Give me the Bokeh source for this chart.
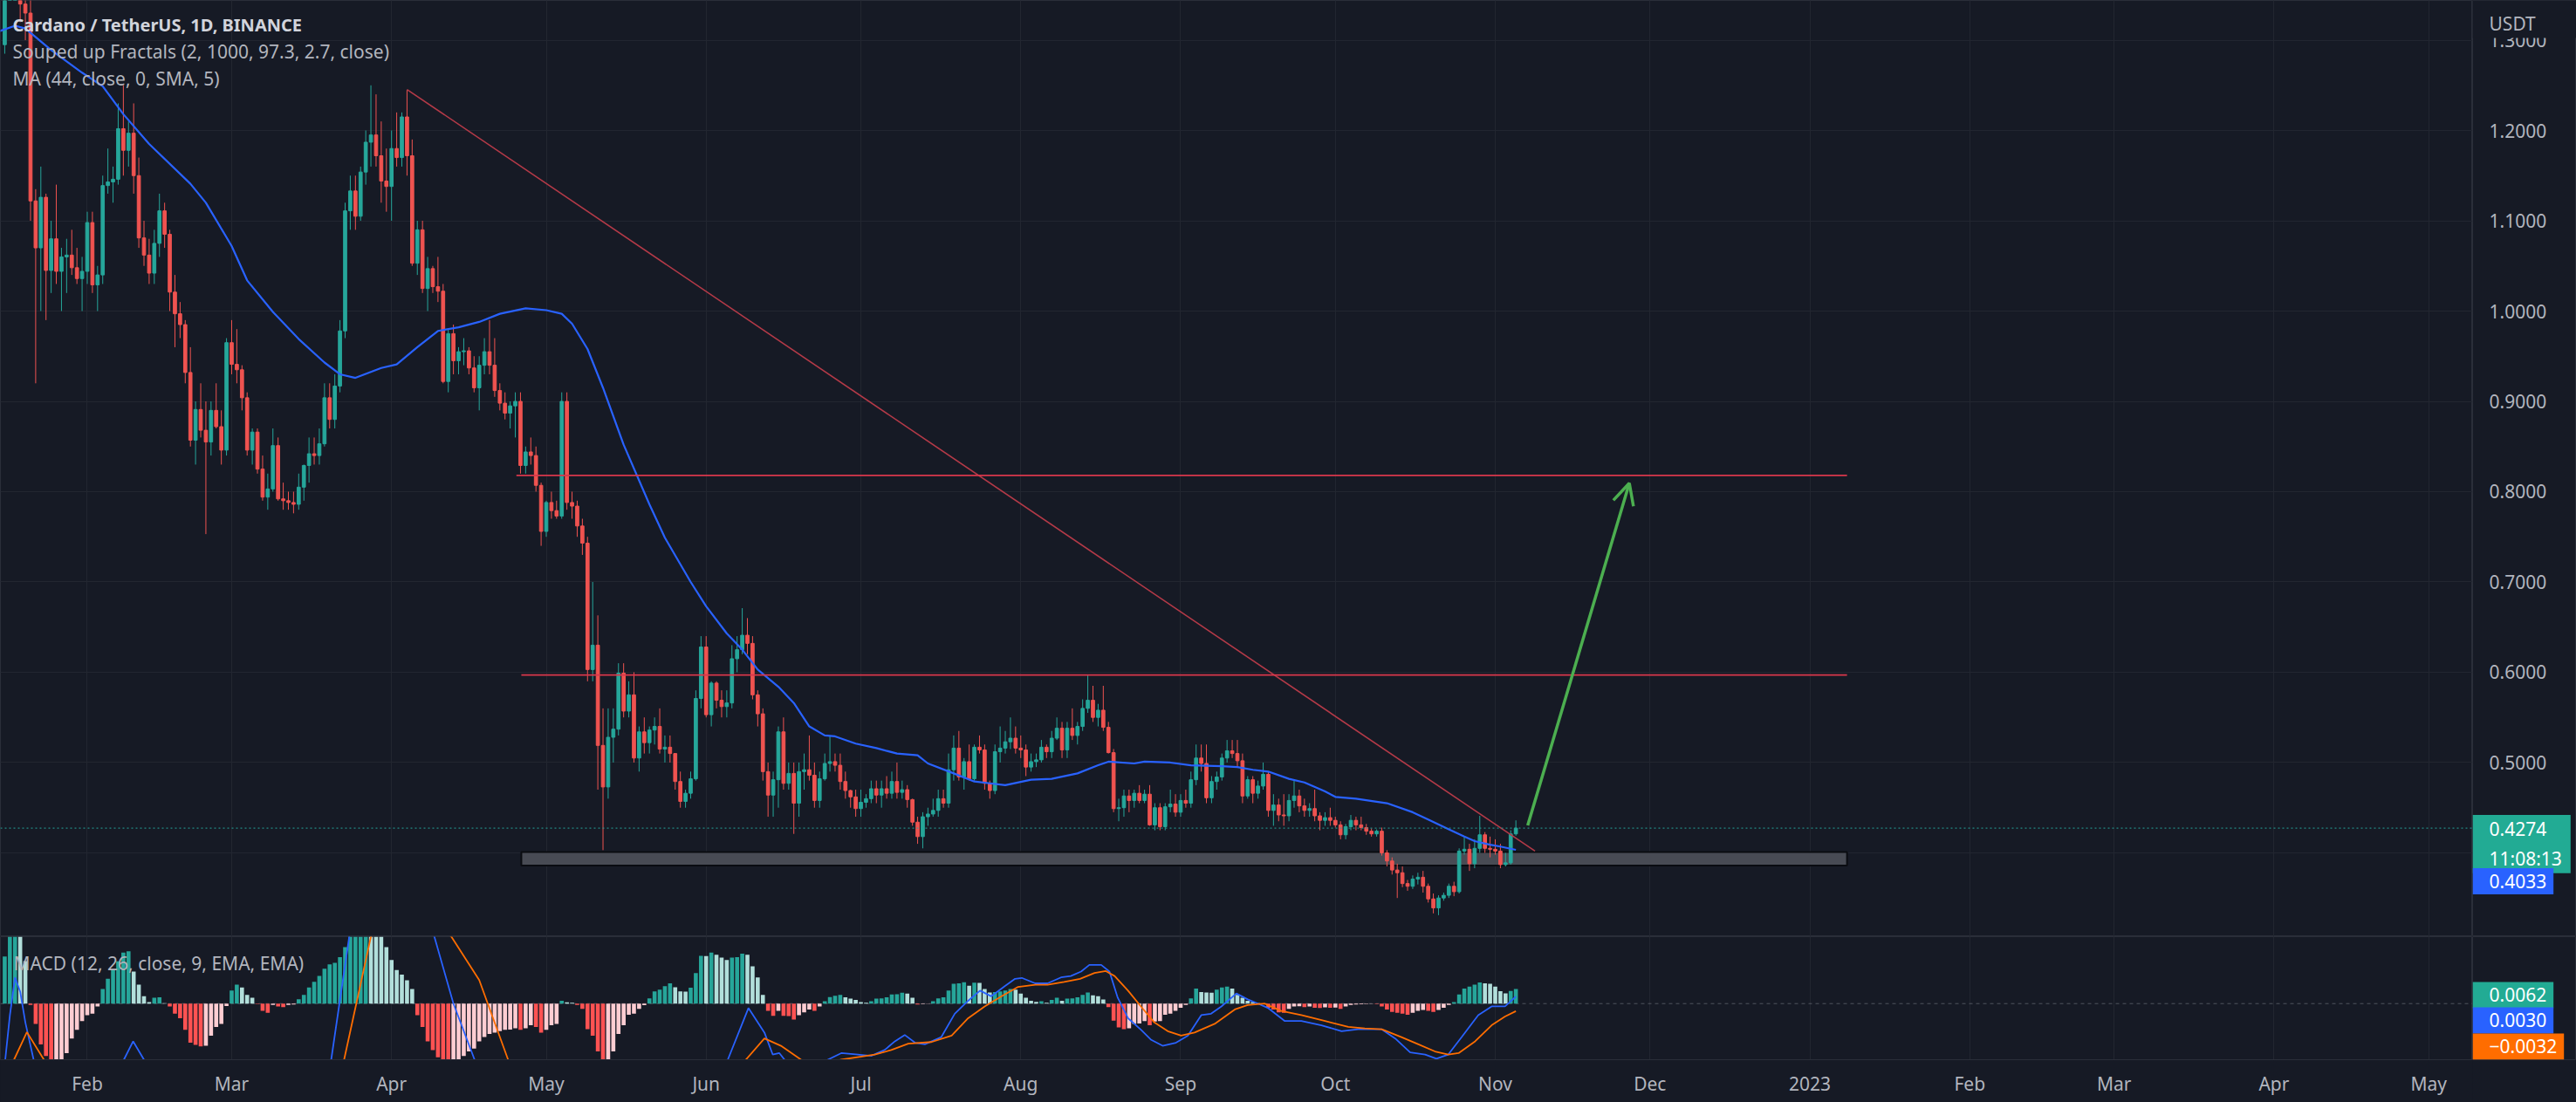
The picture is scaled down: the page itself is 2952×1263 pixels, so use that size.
import pandas as pd
from bokeh.plotting import figure
from bokeh.layouts import column, row
from bokeh.models import (Range1d, FixedTicker, Grid, Span, Label, Arrow, OpenHead, ColumnDataSource)
from bokeh.core.properties import value
from bokeh.embed import file_html
from bokeh.resources import INLINE

# ---------------- DATA ----------------
first_date = "2022-01-16"
first_open = 1.295
closes = [
    # Jan 16-31
    1.38, 1.46, 1.47, 1.34, 1.33, 1.122, 1.070, 1.126, 1.045, 1.080, 1.044, 1.060, 1.062, 1.048, 1.036, 1.044,
    # Feb
    1.098, 1.029, 1.040, 1.139, 1.143, 1.146, 1.202, 1.178, 1.197, 1.150, 1.081, 1.062, 1.042, 1.075, 1.111, 1.085,
    1.021, 0.997, 0.985, 0.932, 0.857, 0.891, 0.868, 0.855, 0.890, 0.872, 0.846, 0.965,
    # Mar
    0.941, 0.935, 0.904, 0.846, 0.866, 0.825, 0.794, 0.803, 0.851, 0.792, 0.790, 0.788, 0.786, 0.805, 0.829, 0.842,
    0.840, 0.853, 0.904, 0.880, 0.917, 0.978, 1.111, 1.133, 1.105, 1.154, 1.187, 1.195, 1.172, 1.144, 1.138,
    # Apr
    1.180, 1.170, 1.215, 1.172, 1.053, 1.090, 1.025, 1.047, 1.027, 1.022, 0.922, 0.975, 0.945, 0.955, 0.956, 0.937,
    0.915, 0.940, 0.955, 0.940, 0.912, 0.898, 0.887, 0.895, 0.900, 0.829, 0.844, 0.840, 0.807, 0.756,
    # May
    0.788, 0.779, 0.773, 0.900, 0.788, 0.784, 0.762, 0.743, 0.603, 0.630, 0.519, 0.473, 0.528, 0.537, 0.599, 0.557,
    0.575, 0.505, 0.534, 0.522, 0.536, 0.540, 0.515, 0.517, 0.510, 0.479, 0.457, 0.466, 0.482, 0.571, 0.628,
    # Jun
    0.553, 0.588, 0.569, 0.562, 0.566, 0.615, 0.625, 0.641, 0.632, 0.575, 0.554, 0.490, 0.464, 0.481, 0.534, 0.477,
    0.488, 0.455, 0.490, 0.492, 0.486, 0.458, 0.482, 0.499, 0.501, 0.497, 0.479, 0.469, 0.462, 0.449,
    # Jul
    0.456, 0.460, 0.471, 0.464, 0.471, 0.466, 0.479, 0.467, 0.470, 0.459, 0.434, 0.418, 0.440, 0.443, 0.447, 0.460,
    0.455, 0.492, 0.516, 0.484, 0.501, 0.482, 0.517, 0.514, 0.477, 0.469, 0.512, 0.516, 0.523, 0.527, 0.516,
    # Aug
    0.514, 0.495, 0.501, 0.503, 0.517, 0.512, 0.527, 0.538, 0.514, 0.538, 0.530, 0.540, 0.560, 0.569, 0.550, 0.558,
    0.539, 0.511, 0.449, 0.450, 0.463, 0.458, 0.466, 0.458, 0.465, 0.431, 0.450, 0.429, 0.451, 0.454, 0.445,
    # Sep
    0.458, 0.455, 0.481, 0.505, 0.499, 0.461, 0.479, 0.484, 0.505, 0.513, 0.510, 0.502, 0.463, 0.481, 0.466, 0.474,
    0.487, 0.447, 0.453, 0.442, 0.441, 0.458, 0.463, 0.452, 0.447, 0.449, 0.441, 0.436, 0.439, 0.436,
    # Oct
    0.431, 0.420, 0.429, 0.436, 0.431, 0.428, 0.424, 0.421, 0.424, 0.400, 0.391, 0.381, 0.378, 0.366, 0.363, 0.371,
    0.373, 0.363, 0.349, 0.339, 0.350, 0.353, 0.363, 0.357, 0.402, 0.404, 0.388, 0.405, 0.420, 0.405, 0.404,
    # Nov 1-5
    0.402, 0.387, 0.389, 0.421, 0.4274,
]
highs = [
    1.40, 1.50, 1.55, 1.49, 1.42, 1.35, 1.135, 1.16, 1.13, 1.10, 1.14, 1.07, 1.08, 1.09, 1.07, 1.06,
    1.11, 1.11, 1.05, 1.15, 1.18, 1.16, 1.23, 1.25, 1.21, 1.23, 1.17, 1.10, 1.08, 1.09, 1.13, 1.12,
    1.09, 1.04, 1.01, 0.99, 0.96, 0.90, 0.92, 0.90, 0.90, 0.92, 0.89, 0.97,
    0.99, 0.98, 0.94, 0.91, 0.87, 0.87, 0.84, 0.82, 0.87, 0.86, 0.81, 0.80, 0.80, 0.82, 0.83, 0.86,
    0.86, 0.87, 0.92, 0.92, 0.93, 0.99, 1.12, 1.15, 1.15, 1.16, 1.20, 1.25, 1.24, 1.21, 1.18,
    1.20, 1.22, 1.22, 1.245, 1.19, 1.10, 1.10, 1.06, 1.05, 1.06, 1.03, 0.98, 0.985, 0.96, 0.97, 0.96,
    0.95, 0.95, 0.97, 0.99, 0.97, 0.92, 0.91, 0.90, 0.91, 0.91, 0.85, 0.86, 0.85, 0.81,
    0.79, 0.80, 0.79, 0.91, 0.91, 0.80, 0.79, 0.77, 0.75, 0.70, 0.663, 0.56, 0.56, 0.56, 0.61, 0.61,
    0.59, 0.60, 0.54, 0.55, 0.54, 0.55, 0.56, 0.53, 0.53, 0.51, 0.49, 0.47, 0.49, 0.58, 0.64,
    0.64, 0.59, 0.59, 0.58, 0.58, 0.63, 0.64, 0.671, 0.66, 0.64, 0.58, 0.56, 0.50, 0.49, 0.54, 0.55,
    0.50, 0.50, 0.50, 0.51, 0.53, 0.50, 0.49, 0.51, 0.53, 0.51, 0.51, 0.49, 0.47, 0.47,
    0.47, 0.465, 0.48, 0.48, 0.48, 0.485, 0.49, 0.50, 0.48, 0.475, 0.46, 0.44, 0.445, 0.45, 0.46, 0.47,
    0.47, 0.51, 0.53, 0.535, 0.505, 0.52, 0.52, 0.53, 0.52, 0.48, 0.52, 0.54, 0.535, 0.55, 0.54,
    0.53, 0.52, 0.51, 0.51, 0.525, 0.52, 0.535, 0.55, 0.545, 0.545, 0.56, 0.545, 0.57, 0.597, 0.585, 0.565,
    0.585, 0.545, 0.515, 0.46, 0.47, 0.47, 0.47, 0.475, 0.47, 0.475, 0.455, 0.455, 0.455, 0.47, 0.465,
    0.465, 0.47, 0.49, 0.52, 0.52, 0.52, 0.485, 0.49, 0.51, 0.525, 0.525, 0.525, 0.51, 0.485, 0.485, 0.48,
    0.50, 0.49, 0.465, 0.46, 0.465, 0.465, 0.48, 0.47, 0.46, 0.455, 0.47, 0.445, 0.445, 0.45,
    0.44, 0.435, 0.432, 0.442, 0.44, 0.44, 0.432, 0.427, 0.426, 0.428, 0.403, 0.395, 0.388, 0.385, 0.370, 0.375,
    0.378, 0.38, 0.366, 0.355, 0.353, 0.356, 0.366, 0.368, 0.405, 0.418, 0.41, 0.415, 0.441, 0.423, 0.418,
    0.415, 0.41, 0.40, 0.425, 0.436,
]
lows = [
    1.285, 1.36, 1.41, 1.32, 1.30, 1.10, 0.92, 1.00, 0.99, 1.02, 1.03, 1.00, 1.02, 1.04, 1.03, 1.00,
    1.03, 1.02, 1.00, 1.03, 1.13, 1.12, 1.14, 1.15, 1.16, 1.13, 1.07, 1.05, 1.03, 1.03, 1.06, 1.07,
    1.00, 0.96, 0.97, 0.92, 0.85, 0.83, 0.86, 0.753, 0.84, 0.87, 0.83, 0.84,
    0.93, 0.92, 0.89, 0.84, 0.83, 0.82, 0.79, 0.78, 0.80, 0.79, 0.78, 0.78, 0.776, 0.78, 0.79, 0.81,
    0.83, 0.83, 0.85, 0.87, 0.87, 0.91, 0.97, 1.09, 1.09, 1.10, 1.14, 1.16, 1.16, 1.12, 1.11,
    1.10, 1.16, 1.16, 1.15, 1.05, 1.04, 1.02, 1.00, 1.02, 1.01, 0.92, 0.91, 0.93, 0.93, 0.94, 0.93,
    0.91, 0.89, 0.93, 0.93, 0.905, 0.89, 0.88, 0.87, 0.86, 0.82, 0.82, 0.83, 0.80, 0.74,
    0.75, 0.77, 0.77, 0.77, 0.78, 0.77, 0.75, 0.73, 0.59, 0.59, 0.47, 0.403, 0.46, 0.50, 0.53, 0.55,
    0.55, 0.50, 0.49, 0.51, 0.51, 0.52, 0.51, 0.50, 0.50, 0.47, 0.45, 0.45, 0.46, 0.48, 0.56,
    0.55, 0.54, 0.56, 0.55, 0.55, 0.56, 0.60, 0.62, 0.62, 0.57, 0.54, 0.48, 0.44, 0.44, 0.45, 0.47,
    0.47, 0.421, 0.44, 0.47, 0.48, 0.45, 0.45, 0.48, 0.49, 0.49, 0.47, 0.46, 0.45, 0.44,
    0.44, 0.45, 0.455, 0.455, 0.45, 0.46, 0.46, 0.46, 0.46, 0.45, 0.43, 0.41, 0.405, 0.43, 0.44, 0.44,
    0.45, 0.45, 0.48, 0.48, 0.47, 0.48, 0.48, 0.51, 0.47, 0.46, 0.465, 0.50, 0.51, 0.515, 0.51,
    0.505, 0.485, 0.49, 0.495, 0.50, 0.505, 0.505, 0.525, 0.505, 0.505, 0.525, 0.52, 0.535, 0.555, 0.545, 0.54,
    0.535, 0.51, 0.445, 0.435, 0.44, 0.445, 0.45, 0.455, 0.455, 0.43, 0.425, 0.425, 0.425, 0.445, 0.44,
    0.44, 0.45, 0.45, 0.475, 0.49, 0.455, 0.455, 0.47, 0.48, 0.50, 0.505, 0.495, 0.455, 0.46, 0.455, 0.46,
    0.47, 0.44, 0.43, 0.435, 0.43, 0.435, 0.45, 0.445, 0.44, 0.44, 0.435, 0.425, 0.43, 0.43,
    0.428, 0.415, 0.415, 0.425, 0.425, 0.425, 0.42, 0.418, 0.418, 0.397, 0.385, 0.376, 0.350, 0.362, 0.358, 0.360,
    0.365, 0.356, 0.345, 0.333, 0.331, 0.347, 0.350, 0.352, 0.355, 0.398, 0.38, 0.383, 0.40, 0.40, 0.395,
    0.398, 0.383, 0.385, 0.387, 0.419,
]
# MACD histogram, one bar per candle
hist = [
    0.020, 0.030, 0.034, 0.033, 0.018, -0.0006, -0.0086, -0.0173, -0.0222, -0.030, -0.028, -0.025, -0.0210, -0.0148, -0.0111, -0.0074,
    -0.0049, -0.0043, -0.0012, 0.0062, 0.0105, 0.0142, 0.0179, 0.0216, 0.0222, 0.0136, 0.0080, 0.0031, 0.0006, 0.0025, 0.0027, 0.0002,
    -0.0012, -0.0043, -0.0062, -0.0111, -0.0166, -0.0175, -0.0182, -0.0179, -0.0136, -0.0099, -0.0086, -0.0010,
    0.0055, 0.0080, 0.0068, 0.0037, 0.0025, -0.0002, -0.0031, -0.0039, -0.0006, -0.0012, -0.0015, -0.0006, -0.0004, 0.0018, 0.0037, 0.0068,
    0.0092, 0.0117, 0.0148, 0.0166, 0.0173, 0.0197, 0.0240, 0.030, 0.035, 0.040, 0.042, 0.040, 0.036, 0.031, 0.0240,
    0.0185, 0.0142, 0.0123, 0.0099, 0.0062, -0.0049, -0.0099, -0.0160, -0.0197, -0.0228, -0.027, -0.029, -0.028, -0.026, -0.0222, -0.0203,
    -0.0191, -0.0160, -0.0142, -0.0129, -0.0123, -0.0117, -0.0111, -0.0110, -0.0105, -0.0111, -0.0105, -0.0092, -0.0099, -0.0123,
    -0.0111, -0.0092, -0.0086, 0.0012, 0.0005, 0.0004, -0.0006, -0.0022, -0.0108, -0.0136, -0.0203, -0.026, -0.025, -0.0203, -0.0129, -0.0092,
    -0.0047, -0.0043, -0.0022, -0.0007, 0.0022, 0.0052, 0.0059, 0.0074, 0.0086, 0.0069, 0.0052, 0.0051, 0.0067, 0.0129, 0.0203,
    0.0202, 0.0216, 0.0207, 0.0195, 0.0185, 0.0195, 0.0197, 0.0212, 0.0207, 0.0158, 0.0111, 0.0037, -0.0031, -0.0052, -0.0031, -0.0052,
    -0.0053, -0.0068, -0.0049, -0.0037, -0.0025, -0.0031, -0.0012, 0.0010, 0.0028, 0.0033, 0.0037, 0.0027, 0.0021, 0.0016,
    0.0006, 0.0004, 0.0010, 0.0021, 0.0022, 0.0027, 0.0039, 0.0040, 0.0046, 0.0042, 0.0025, -0.0004, -0.0002, -0.0001, 0.0010, 0.0022,
    0.0027, 0.0055, 0.0084, 0.0086, 0.0091, 0.0076, 0.0089, 0.0088, 0.0062, 0.0047, 0.0049, 0.0052, 0.0055, 0.0062, 0.0059,
    0.0042, 0.0025, 0.0012, 0.0007, 0.0010, 0.0004, 0.0016, 0.0025, 0.0012, 0.0021, 0.0022, 0.0027, 0.0037, 0.0047, 0.0035, 0.0031,
    0.0017, -0.0015, -0.0072, -0.0101, -0.0108, -0.0105, -0.0086, -0.0084, -0.0074, -0.0092, -0.0076, -0.0074, -0.0047, -0.0043, -0.0031,
    -0.0018, -0.0006, 0.0022, 0.0064, 0.0049, 0.0047, 0.0046, 0.0059, 0.0068, 0.0072, 0.0064, 0.0037, 0.0025, 0.0012, 0.0006, 0.0002,
    0.0001, -0.0018, -0.0025, -0.0037, -0.0039, -0.0022, -0.0012, -0.0011, -0.0015, -0.0012, -0.0018, -0.0019, -0.0016, -0.0018,
    -0.0017, -0.0022, -0.0012, -0.0006, -0.0004, -0.0003, -0.0002, -0.0001, -0.0002, -0.0012, -0.0025, -0.0035, -0.0039, -0.0043, -0.0047, -0.0039,
    -0.0031, -0.0027, -0.0031, -0.0035, -0.0027, -0.0018, -0.0006, 0.0006, 0.0039, 0.0064, 0.0072, 0.0080, 0.0090, 0.0086, 0.0084,
    0.0072, 0.0053, 0.0043, 0.0054, 0.0062,
]
# MA (44) line, read at points
ma_dates = ["2022-01-15", "2022-01-18", "2022-01-20", "2022-01-25", "2022-01-31", "2022-02-04", "2022-02-08",
            "2022-02-13", "2022-02-21", "2022-02-24", "2022-03-01", "2022-03-04", "2022-03-09", "2022-03-14",
            "2022-03-19", "2022-03-22", "2022-03-25", "2022-03-30", "2022-04-02", "2022-04-06", "2022-04-10",
            "2022-04-14", "2022-04-18", "2022-04-22", "2022-04-27", "2022-05-01", "2022-05-04", "2022-05-06",
            "2022-05-09", "2022-05-12", "2022-05-16", "2022-05-21", "2022-05-24", "2022-05-29", "2022-06-01",
            "2022-06-05", "2022-06-08", "2022-06-11", "2022-06-15", "2022-06-18", "2022-06-21", "2022-06-24",
            "2022-06-26", "2022-06-30", "2022-07-04", "2022-07-08", "2022-07-12", "2022-07-14", "2022-07-19",
            "2022-07-23", "2022-07-26", "2022-07-29", "2022-08-03", "2022-08-07", "2022-08-12", "2022-08-16",
            "2022-08-18", "2022-08-23", "2022-08-25", "2022-08-30", "2022-09-03", "2022-09-09", "2022-09-12",
            "2022-09-15", "2022-09-18", "2022-09-22", "2022-09-25", "2022-09-29", "2022-10-01", "2022-10-05",
            "2022-10-11", "2022-10-16", "2022-10-19", "2022-10-23", "2022-10-26", "2022-10-28", "2022-10-31",
            "2022-11-02", "2022-11-05"]
ma_values = [1.310, 1.316, 1.313, 1.289, 1.264, 1.249, 1.218, 1.185, 1.141, 1.120, 1.072, 1.034, 0.999, 0.969,
             0.943, 0.930, 0.926, 0.937, 0.941, 0.960, 0.978, 0.982, 0.988, 0.997, 1.003, 1.001, 0.997, 0.986,
             0.958, 0.915, 0.852, 0.786, 0.749, 0.700, 0.673, 0.643, 0.625, 0.603, 0.584, 0.566, 0.540, 0.530,
             0.529, 0.521, 0.516, 0.510, 0.508, 0.499, 0.488, 0.479, 0.477, 0.475, 0.481, 0.482, 0.488, 0.497,
             0.501, 0.499, 0.501, 0.500, 0.497, 0.496, 0.495, 0.492, 0.490, 0.482, 0.478, 0.468, 0.462, 0.460,
             0.455, 0.445, 0.437, 0.426, 0.418, 0.413, 0.409, 0.407, 0.4033]
# MACD and signal lines: day offsets from 2022-02-01
line_base = "2022-02-01"
macd_days = [-17, -15.9, -15, -14, -13, -12, -10.4, -9, -5, 0, 4, 7.1, 8.9, 11, 14, 20, 28, 36, 44, 47.3, 50.8,
             55, 62, 67.3, 71, 75.1, 85, 100, 115, 124.2, 128.2, 131.3, 132.9, 134.2, 135.2, 140, 143.6, 146.2,
             149.4, 152, 154.6, 156.6, 158.5, 160.5, 162.4, 165.6, 168.2, 170.8, 173.1, 175.3, 177.9, 179.9,
             181.2, 183.8, 186.2, 188.8, 190.7, 192.7, 194.3, 196.6, 198.2, 199.8, 201.8, 204.3, 206.3, 208.5,
             211.1, 213.4, 216, 217.9, 219.9, 222.8, 225, 227, 228.9, 232.2, 235.4, 239.3, 243.2, 246.4, 251,
             253.6, 256.5, 259.4, 261.6, 263.9, 266.5, 269.7, 272.3, 274.9, 277]
macd_values = [-0.035, -0.0238, -0.005, 0.0111, 0.005, -0.008, -0.0238, -0.04, -0.06, -0.055, -0.035, -0.0238,
               -0.016, -0.0238, -0.03, -0.05, -0.06, -0.065, -0.05, -0.0238, 0.0284, 0.05, 0.06, 0.0284, 0.0,
               -0.0238, -0.04, -0.06, -0.05, -0.0238, -0.0019, -0.0123, -0.0216, -0.0210, -0.0238, -0.03,
               -0.0238, -0.0210, -0.0216, -0.0222, -0.0197, -0.0160, -0.0133, -0.0166, -0.0173, -0.0142,
               -0.0043, 0.0012, 0.0055, 0.0031, 0.0074, 0.0105, 0.0109, 0.0086, 0.0086, 0.0111, 0.0117, 0.0136,
               0.0164, 0.0164, 0.0136, 0.0025, -0.0062, -0.0111, -0.0154, -0.0179, -0.0166, -0.0136, -0.0049,
               -0.0043, -0.0012, 0.0043, 0.0018, 0.0, -0.0018, -0.0074, -0.0074, -0.0092, -0.0117, -0.0109,
               -0.0109, -0.0148, -0.0207, -0.0216, -0.0234, -0.0216, -0.0142, -0.0049, -0.0012, -0.0012, 0.0030]
signal_days = [-17, -14.2, -11.7, -8.4, -5, 5, 20, 35, 45, 49.8, 55, 60, 65, 70.6, 76, 81.6, 90, 110, 120, 127.7,
               131.3, 134.5, 138.4, 142, 146.2, 152.7, 155.9, 159.2, 163.7, 167.6, 170.8, 174, 177.3, 180.5,
               183.8, 186.2, 189.4, 192.5, 195.3, 197.5, 199.2, 201.8, 204.3, 206.9, 209.5, 212.1, 214.7, 218.6,
               222.5, 225, 228.3, 231.5, 235.4, 240, 244.5, 247.7, 251, 254.8, 258.1, 261.3, 263.9, 265.9, 269.1,
               272.3, 274.9, 277]
signal_values = [-0.045, -0.0238, -0.0121, -0.0238, -0.035, -0.05, -0.045, -0.055, -0.045, -0.0238, 0.0284,
                 0.045, 0.04, 0.0284, 0.01, -0.0238, -0.035, -0.05, -0.04, -0.0238, -0.0148, -0.0179, -0.0238,
                 -0.026, -0.0238, -0.0216, -0.0197, -0.0170, -0.0163, -0.0136, -0.0062, -0.0012, 0.0031, 0.0071,
                 0.0080, 0.0080, 0.0092, 0.0105, 0.0130, 0.0138, 0.0117, 0.0055, -0.0012, -0.0080, -0.0117,
                 -0.0136, -0.0123, -0.0086, -0.0025, -0.0006, 0.0, -0.0031, -0.0049, -0.0074, -0.0099, -0.0105,
                 -0.0109, -0.0142, -0.0173, -0.0203, -0.0216, -0.0210, -0.0160, -0.0092, -0.0055, -0.0032]
# Drawings
trend_dates = ["2022-04-04 00:00", "2022-11-08 17:00"]
trend_prices = [1.2454, 0.402]
level_prices = [0.818, 0.597]
level_starts = ["2022-04-25 05:00", "2022-04-26 04:00"]
level_end = "2023-01-08 05:00"
zone_dates = ["2022-04-26 04:00", "2023-01-08 05:00"]
zone_prices = [0.386, 0.401]
arrow_dates = ["2022-11-07 07:00", "2022-11-27 00:00"]
arrow_prices = [0.4303, 0.8094]
# Axes
month_starts = ["2022-02-01", "2022-03-01", "2022-04-01", "2022-05-01", "2022-06-01", "2022-07-01",
                "2022-08-01", "2022-09-01", "2022-10-01", "2022-11-01", "2022-12-01", "2023-01-01",
                "2023-02-01", "2023-03-01", "2023-04-01", "2023-05-01"]
month_labels = ["Feb", "Mar", "Apr", "May", "Jun", "Jul", "Aug", "Sep", "Oct", "Nov", "Dec", "2023",
                "Feb", "Mar", "Apr", "May"]
price_ticks = [0.4, 0.5, 0.6, 0.7, 0.8, 0.9, 1.0, 1.1, 1.2, 1.3]
labelled_ticks = [0.5, 0.6, 0.7, 0.8, 0.9, 1.0, 1.1, 1.2, 1.3]
view_dates = ["2022-01-15 04:00", "2023-05-09 12:00"]
view_prices = [0.3072, 1.344]
view_macd = [-0.0238, 0.0284]
title_lines = ["Cardano / TetherUS, 1D, BINANCE", "Souped up Fractals (2, 1000, 97.3, 2.7, close)",
               "MA (44, close, 0, SMA, 5)"]
macd_title = "MACD (12, 26, close, 9, EMA, EMA)"
countdown = "11:08:13"
currency = "USDT"

# ---------------- STYLE ----------------
BG = "#161a25"
GRID = "#222630"
SEP = "#2a2e39"
TEXT = "#b2b5be"
UP = "#26a69a"
DOWN = "#ef5350"
FONT = "Noto Sans"
FS = "21px"
DAY = 86400000.0
PLOT_W, SCALE_W = 2833, 119
MAIN_H, MACD_H, AXIS_H = 1073, 190, 49


def ms(t):
    return pd.Timestamp(t).value / 1e6


dates = pd.date_range(first_date, periods=len(closes), freq="D")
# each daily candle opens where the previous one closed
opens = [first_open] + closes[:-1]
src = ColumnDataSource(dict(
    x=dates, h=highs, l=lows,
    top=[max(o, c) for o, c in zip(opens, closes)],
    bottom=[min(o, c) for o, c in zip(opens, closes)],
    color=[UP if c >= o else DOWN for o, c in zip(opens, closes)],
))

hist_colors = []
prev = None
for v in hist:
    if v >= 0:
        hist_colors.append("#26a69a" if (prev is None or v >= prev) else "#b2dfdb")
    else:
        hist_colors.append("#ff5252" if (prev is None or v <= prev) else "#ffcdd2")
    prev = v

month_ms = [ms(m) for m in month_starts]
x_range = Range1d(ms(view_dates[0]), ms(view_dates[1]))
price_range = Range1d(*view_prices)
macd_range = Range1d(*view_macd)

common = dict(output_backend="svg", toolbar_location=None, min_border_left=0, min_border_right=0,
              min_border_top=0, background_fill_color=BG, border_fill_color=BG, outline_line_color=SEP)


def hide_default_grids(fig):
    for g in list(fig.grid):
        g.visible = False


# ---------------- MAIN PANE ----------------
p1 = figure(width=PLOT_W, height=MAIN_H, x_range=x_range, y_range=price_range, x_axis_type="datetime",
            x_axis_location=None, y_axis_location=None, min_border_bottom=0, **common)
hide_default_grids(p1)
p1.add_layout(Grid(dimension=1, ticker=FixedTicker(ticks=price_ticks), grid_line_color=GRID))
p1.add_layout(Grid(dimension=0, ticker=FixedTicker(ticks=month_ms), grid_line_color=GRID))

p1.quad(left=[ms(zone_dates[0])], right=[ms(zone_dates[1])], bottom=[zone_prices[0]], top=[zone_prices[1]],
        fill_color="#484b54", line_color="#0a0c11", line_width=2)
p1.segment(x0="x", y0="l", x1="x", y1="h", line_color="color", line_width=1, source=src)
p1.vbar(x="x", width=0.62 * DAY, top="top", bottom="bottom", fill_color="color", line_color="color",
        line_width=1, source=src)
p1.line([pd.Timestamp(d) for d in ma_dates], ma_values, line_color="#2962ff", line_width=2.2)
p1.line([pd.Timestamp(d) for d in trend_dates], trend_prices, line_color="#b43a48", line_width=1.6)
p1.segment(x0=[ms(s) for s in level_starts], x1=[ms(level_end)] * len(level_prices),
           y0=level_prices, y1=level_prices, line_color="#d9374b", line_width=1.6)
p1.add_layout(Span(location=closes[-1], dimension="width", line_color=UP, line_dash="2 3", line_width=1))
GREEN = "#4caf50"
p1.add_layout(Arrow(end=OpenHead(size=24, line_color=GREEN, line_width=3.5),
                    x_start=ms(arrow_dates[0]), y_start=arrow_prices[0],
                    x_end=ms(arrow_dates[1]), y_end=arrow_prices[1],
                    line_color=GREEN, line_width=3.5))

ys = [MAIN_H - 28, MAIN_H - 58, MAIN_H - 89]
p1.add_layout(Label(x=14, y=ys[0], x_units="screen", y_units="screen", text=title_lines[0],
                    text_font=FONT, text_font_size="20px", text_font_style="bold", text_color="#d1d4dc",
                    text_baseline="middle"))
for t, yy in zip(title_lines[1:], ys[1:]):
    p1.add_layout(Label(x=14, y=yy, x_units="screen", y_units="screen", text=t, text_font=FONT,
                        text_font_size=FS, text_color=TEXT, text_baseline="middle"))

# ---------------- PRICE SCALE (right) ----------------
r1 = figure(width=SCALE_W, height=MAIN_H, x_range=Range1d(0, SCALE_W), y_range=price_range,
            x_axis_location=None, y_axis_location=None, min_border_bottom=0, **common)
hide_default_grids(r1)
r1.text(x=[19] * len(labelled_ticks), y=labelled_ticks, text=[f"{t:.4f}" for t in labelled_ticks],
        text_font=value(FONT), text_font_size=FS, text_color=TEXT, text_baseline="middle", text_align="left")
r1.add_layout(Label(x=0, y=MAIN_H, x_units="screen", y_units="screen", text=currency, text_font=FONT,
                    text_font_size=FS, text_color=TEXT, anchor="top_left", background_fill_color=BG,
                    padding=dict(left=19, right=60, top=12, bottom=3)))
tag_common = dict(x=0, x_units="screen", y_units="data", anchor="top_left", text_font=FONT,
                  text_font_size=FS, text_color="#ffffff")
r1.add_layout(Label(y=closes[-1], y_offset=15, text=f"{closes[-1]:.4f}\n{countdown}",
                    background_fill_color="#22ab94", text_line_height=1.2,
                    padding=dict(left=19, right=10, top=2, bottom=3), **tag_common))
r1.add_layout(Label(y=closes[-1], y_offset=-46, text=f"{ma_values[-1]:.4f}",
                    background_fill_color="#2962ff",
                    padding=dict(left=19, right=8, top=7, bottom=7), **tag_common))

# ---------------- MACD PANE ----------------
p2 = figure(width=PLOT_W, height=MACD_H, x_range=x_range, y_range=macd_range, x_axis_type="datetime",
            y_axis_location=None, min_border_bottom=AXIS_H, **common)
hide_default_grids(p2)
p2.add_layout(Grid(dimension=0, ticker=FixedTicker(ticks=month_ms), grid_line_color=GRID))
xa = p2.xaxis[0]
xa.ticker = FixedTicker(ticks=month_ms)
xa.major_label_overrides = {m: lab for m, lab in zip(month_ms, month_labels)}
xa.major_label_text_color = TEXT
xa.major_label_text_font = FONT
xa.major_label_text_font_size = FS
xa.major_tick_line_color = None
xa.minor_tick_line_color = None
xa.axis_line_color = SEP
xa.major_label_standoff = 7

p2.add_layout(Span(location=0, dimension="width", line_color="#787b86", line_dash="4 4", line_alpha=0.6,
                   line_width=1, level="underlay"))
p2.vbar(x=dates, top=hist, bottom=0, width=0.78 * DAY, fill_color=hist_colors, line_color=None)
base = pd.Timestamp(line_base)
p2.line([base + pd.Timedelta(days=d) for d in macd_days], macd_values, line_color="#2962ff", line_width=1.8)
p2.line([base + pd.Timedelta(days=d) for d in signal_days], signal_values, line_color="#ff6d00", line_width=1.8)
p2.add_layout(Label(x=15, y=(MACD_H - AXIS_H) - 30, x_units="screen", y_units="screen", text=macd_title,
                    text_font=FONT, text_font_size=FS, text_color=TEXT, text_baseline="middle"))

# ---------------- MACD SCALE (right) ----------------
r2 = figure(width=SCALE_W, height=MACD_H, x_range=Range1d(0, SCALE_W), y_range=macd_range,
            x_axis_location=None, y_axis_location=None, min_border_bottom=AXIS_H, **common)
hide_default_grids(r2)
mt = dict(x=0, x_units="screen", y_units="data", anchor="top_left", text_font=FONT,
          text_font_size=FS, text_color="#ffffff")
r2.add_layout(Label(y=hist[-1], y_offset=8, text=f"{hist[-1]:.4f}", background_fill_color="#22ab94",
                    padding=dict(left=19, right=8, top=7, bottom=7), **mt))
r2.add_layout(Label(y=hist[-1], y_offset=-21, text=f"{macd_values[-1]:.4f}", background_fill_color="#2962ff",
                    padding=dict(left=19, right=8, top=7, bottom=7), **mt))
r2.add_layout(Label(y=hist[-1], y_offset=-51, text=f"{signal_values[-1]:.4f}".replace("-", "\u2212"),
                    background_fill_color="#ff6d00",
                    padding=dict(left=19, right=8, top=7, bottom=7), **mt))

layout = row(column(p1, p2, spacing=0), column(r1, r2, spacing=0), spacing=0)
html = file_html(layout, INLINE)
html = html.replace("<head>", "<head><style>html,body{margin:0;padding:0;background:#161a25;}</style>", 1)
open("out.html", "w").write(html)
